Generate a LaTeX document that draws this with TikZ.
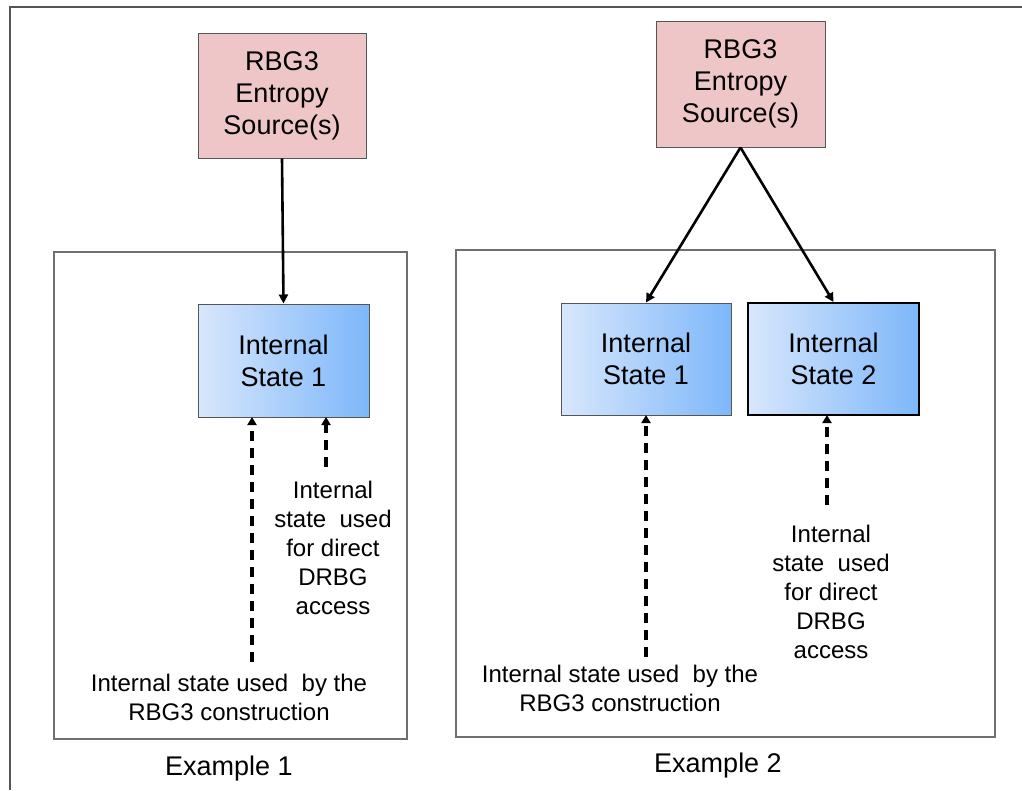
\documentclass[tikz,border=0pt]{standalone}
\usepackage{fontspec}
\setmainfont{Liberation Sans}
\usetikzlibrary{arrows.meta}
\definecolor{pinkfill}{HTML}{EFC6C7}
\definecolor{blueL}{HTML}{D8E7FC}
\definecolor{blueR}{HTML}{7DB7FA}
\definecolor{framegray}{HTML}{555555}
\definecolor{boxgray}{HTML}{707070}
\tikzset{
  pinkbox/.style={draw=framegray, line width=1pt, fill=pinkfill, align=center, inner sep=0pt,
    font=\fontsize{27}{32}\selectfont},
  bluebox/.style={draw=framegray, line width=1pt, left color=blueL, right color=blueR, align=center, inner sep=0pt,
    font=\fontsize{27}{32}\selectfont},
  groupbox/.style={draw=boxgray, line width=1.6pt, inner sep=0pt},
  solidarrow/.style={line width=2.6pt, -{Triangle[length=9pt,width=9pt]}},
  dasharrow/.style={line width=3.2pt, dash pattern=on 10pt off 7pt, -{Triangle[length=8pt,width=9pt]}},
  lbl/.style={align=center, inner sep=0pt, font=\fontsize{24}{29}\selectfont, anchor=base},
  caption/.style={inner sep=0pt, font=\fontsize{27}{32}\selectfont, anchor=base}
}
\begin{document}
\begin{tikzpicture}[x=1pt,y=-1pt]
\useasboundingbox (0,0) rectangle (1022,790);
% outer frame (open to the right and bottom)
\draw[color=framegray, line width=1.6pt] (10,790) -- (10,7) -- (1022,7);

% group boxes
\node[groupbox, minimum width=353pt, minimum height=487pt] (ex1) at (230.5,495.5) {};
\node[groupbox, minimum width=539pt, minimum height=487pt] (ex2) at (725.5,493.5) {};

% entropy sources
\node[pinkbox, minimum width=168pt, minimum height=125pt] (src1) at (282,95.5) {RBG3\\Entropy\\Source(s)};
\node[pinkbox, minimum width=169pt, minimum height=126pt] (src2) at (740.5,84) {RBG3\\Entropy\\Source(s)};

% internal states
\node[bluebox, minimum width=171pt, minimum height=113pt] (is1) at (283.5,360.5) {Internal\\State 1};
\node[bluebox, minimum width=170pt, minimum height=112pt] (is21) at (646,359) {Internal\\State 1};
\node[bluebox, draw=black, line width=2pt, minimum width=171pt, minimum height=112pt] (is22) at (833.5,359) {Internal\\State 2};

% solid arrows
\draw[solidarrow] (src1.south) -- (is1.north);
\draw[solidarrow] (src2.south) -- (is21.north);
\draw[solidarrow] (src2.south) -- (is22.north);

% labels (base anchor = baseline of last line)
\node[lbl] (l1a) at (333,614) {Internal\\state\ \ used\\for direct\\DRBG\\access};
\node[lbl] (l1b) at (229,720) {Internal state used\ \ by the\\RBG3 construction};
\node[lbl] (l2a) at (831,658) {Internal\\state\ \ used\\for direct\\DRBG\\access};
\node[lbl] (l2b) at (620,711) {Internal state used\ \ by the\\RBG3 construction};
\node[caption] (c1) at (229,775) {Example 1};
\node[caption] (c2) at (718,772) {Example 2};

% dashed arrows
\coordinate (d1s) at (252,662);
\coordinate (d1e) at (252,417);
\coordinate (d2s) at (326,467);
\coordinate (d2e) at (326,417);
\coordinate (d3s) at (646,657);
\coordinate (d3e) at (646,415);
\coordinate (d4s) at (827,505);
\coordinate (d4e) at (827,415);
\draw[dasharrow] (d1s) -- (d1e);
\draw[dasharrow] (d2s) -- (d2e);
\draw[dasharrow] (d3s) -- (d3e);
\draw[dasharrow] (d4s) -- (d4e);
\end{tikzpicture}
\end{document}
